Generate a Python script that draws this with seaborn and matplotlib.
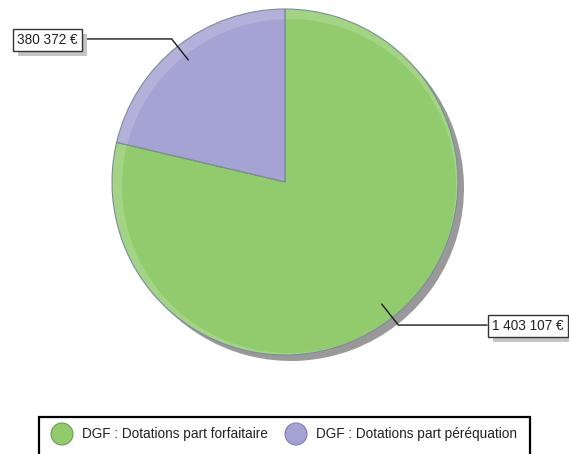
import numpy as np
import pandas as pd
import seaborn as sns
import matplotlib
matplotlib.use("Agg")
import matplotlib.pyplot as plt
from matplotlib.patches import Rectangle, PathPatch
from matplotlib.path import Path
import matplotlib.patheffects as pe

# Dotation globale de fonctionnement (DGF)
categories = ["DGF : Dotations part forfaitaire", "DGF : Dotations part péréquation"]
values = [1403107, 380372]
value_labels = ["1 403 107 €", "380 372 €"]

sns.set_theme(style="white")
plt.rcParams["font.family"] = ["Liberation Sans", "DejaVu Sans"]

palette = sns.color_palette(["#92CB6E", "#A5A3D4"])
edge_dark = ["#6f9a56", "#7f7db0"]

df = pd.DataFrame({"categorie": categories, "montant": values,
                   "etiquette": value_labels, "couleur": list(palette)})
# the smaller share starts at 12 o'clock and runs counter-clockwise
df_pie = df.iloc[[1, 0]].reset_index(drop=True)

W, H = 569, 454
fig = plt.figure(figsize=(W / 100, H / 100), dpi=100, facecolor="white")
ax = fig.add_axes([0, 0, 1, 1])

cx, cy, R = 285, H - 182, 173

# drop shadow
ax.pie(df_pie["montant"], colors=["#999999"] * 2, radius=R,
       center=(cx + 6, cy - 6), startangle=90, counterclock=True,
       wedgeprops=dict(linewidth=0))
# slices
wedges, _ = ax.pie(df_pie["montant"], colors=df_pie["couleur"], radius=R,
                   center=(cx, cy), startangle=90, counterclock=True,
                   wedgeprops=dict(linewidth=0))

# light rim on the upper-left of the disc
t = np.linspace(0, 2 * np.pi, 361)
outer = np.column_stack([cx + R * np.cos(t), cy + R * np.sin(t)])
r2 = R - 6
inner = np.column_stack([cx + 4 + r2 * np.cos(t[::-1]), cy - 4 + r2 * np.sin(t[::-1])])
verts = np.vstack([outer, inner])
codes = ([Path.MOVETO] + [Path.LINETO] * (len(outer) - 2) + [Path.CLOSEPOLY]) * 2
ax.add_patch(PathPatch(Path(verts, codes), facecolor="white", alpha=0.16,
                       linewidth=0, zorder=3))

# outlines
ax.pie(df_pie["montant"], colors=["none"] * 2, radius=R, center=(cx, cy),
       startangle=90, counterclock=True,
       wedgeprops=dict(edgecolor="#7d8c99", linewidth=0.8, zorder=4))

# value call-outs
for w, lab in zip(wedges, df_pie["etiquette"]):
    ang = np.deg2rad((w.theta1 + w.theta2) / 2)
    p0 = (cx + 0.9 * R * np.cos(ang), cy + 0.9 * R * np.sin(ang))
    p1 = (cx + 1.055 * R * np.cos(ang), cy + 1.055 * R * np.sin(ang))
    if np.cos(ang) < 0:
        xend, ha, xt = 83, "right", 78
    else:
        xend, ha, xt = 487, "left", 492
    ax.plot([p0[0], p1[0], xend], [p0[1], p1[1], p1[1]], color="#1a1a1a",
            lw=1.0, zorder=5, solid_joinstyle="miter")
    txt = ax.text(xt, p1[1] - 1, lab, ha=ha, va="center", fontsize=9.8,
                  color="#222222", zorder=6,
                  bbox=dict(boxstyle="square,pad=0.3", facecolor="white",
                            edgecolor="#333333", linewidth=1.0))
    txt.get_bbox_patch().set_path_effects(
        [pe.SimplePatchShadow(offset=(3.5, -3.5), shadow_rgbFace="#c4c4c4", alpha=1.0),
         pe.Normal()])

# legend
ax.add_patch(Rectangle((39, H - 470), 491, 470 - 417, facecolor="white",
                       edgecolor="black", linewidth=1.6, zorder=5))
leg_x = [62, 296]
ax.scatter(leg_x, [H - 434] * 2, s=250, c=list(palette), edgecolors=edge_dark,
           linewidths=0.8, zorder=6)
for x, name in zip(leg_x, df["categorie"]):
    ax.text(x + 20, H - 434, name, ha="left", va="center", fontsize=9.8,
            color="#222222", zorder=6)

ax.set_xlim(0, W)
ax.set_ylim(0, H)
ax.set_aspect("auto")
ax.axis("off")

fig.savefig("out.png", dpi=100, facecolor="white")
